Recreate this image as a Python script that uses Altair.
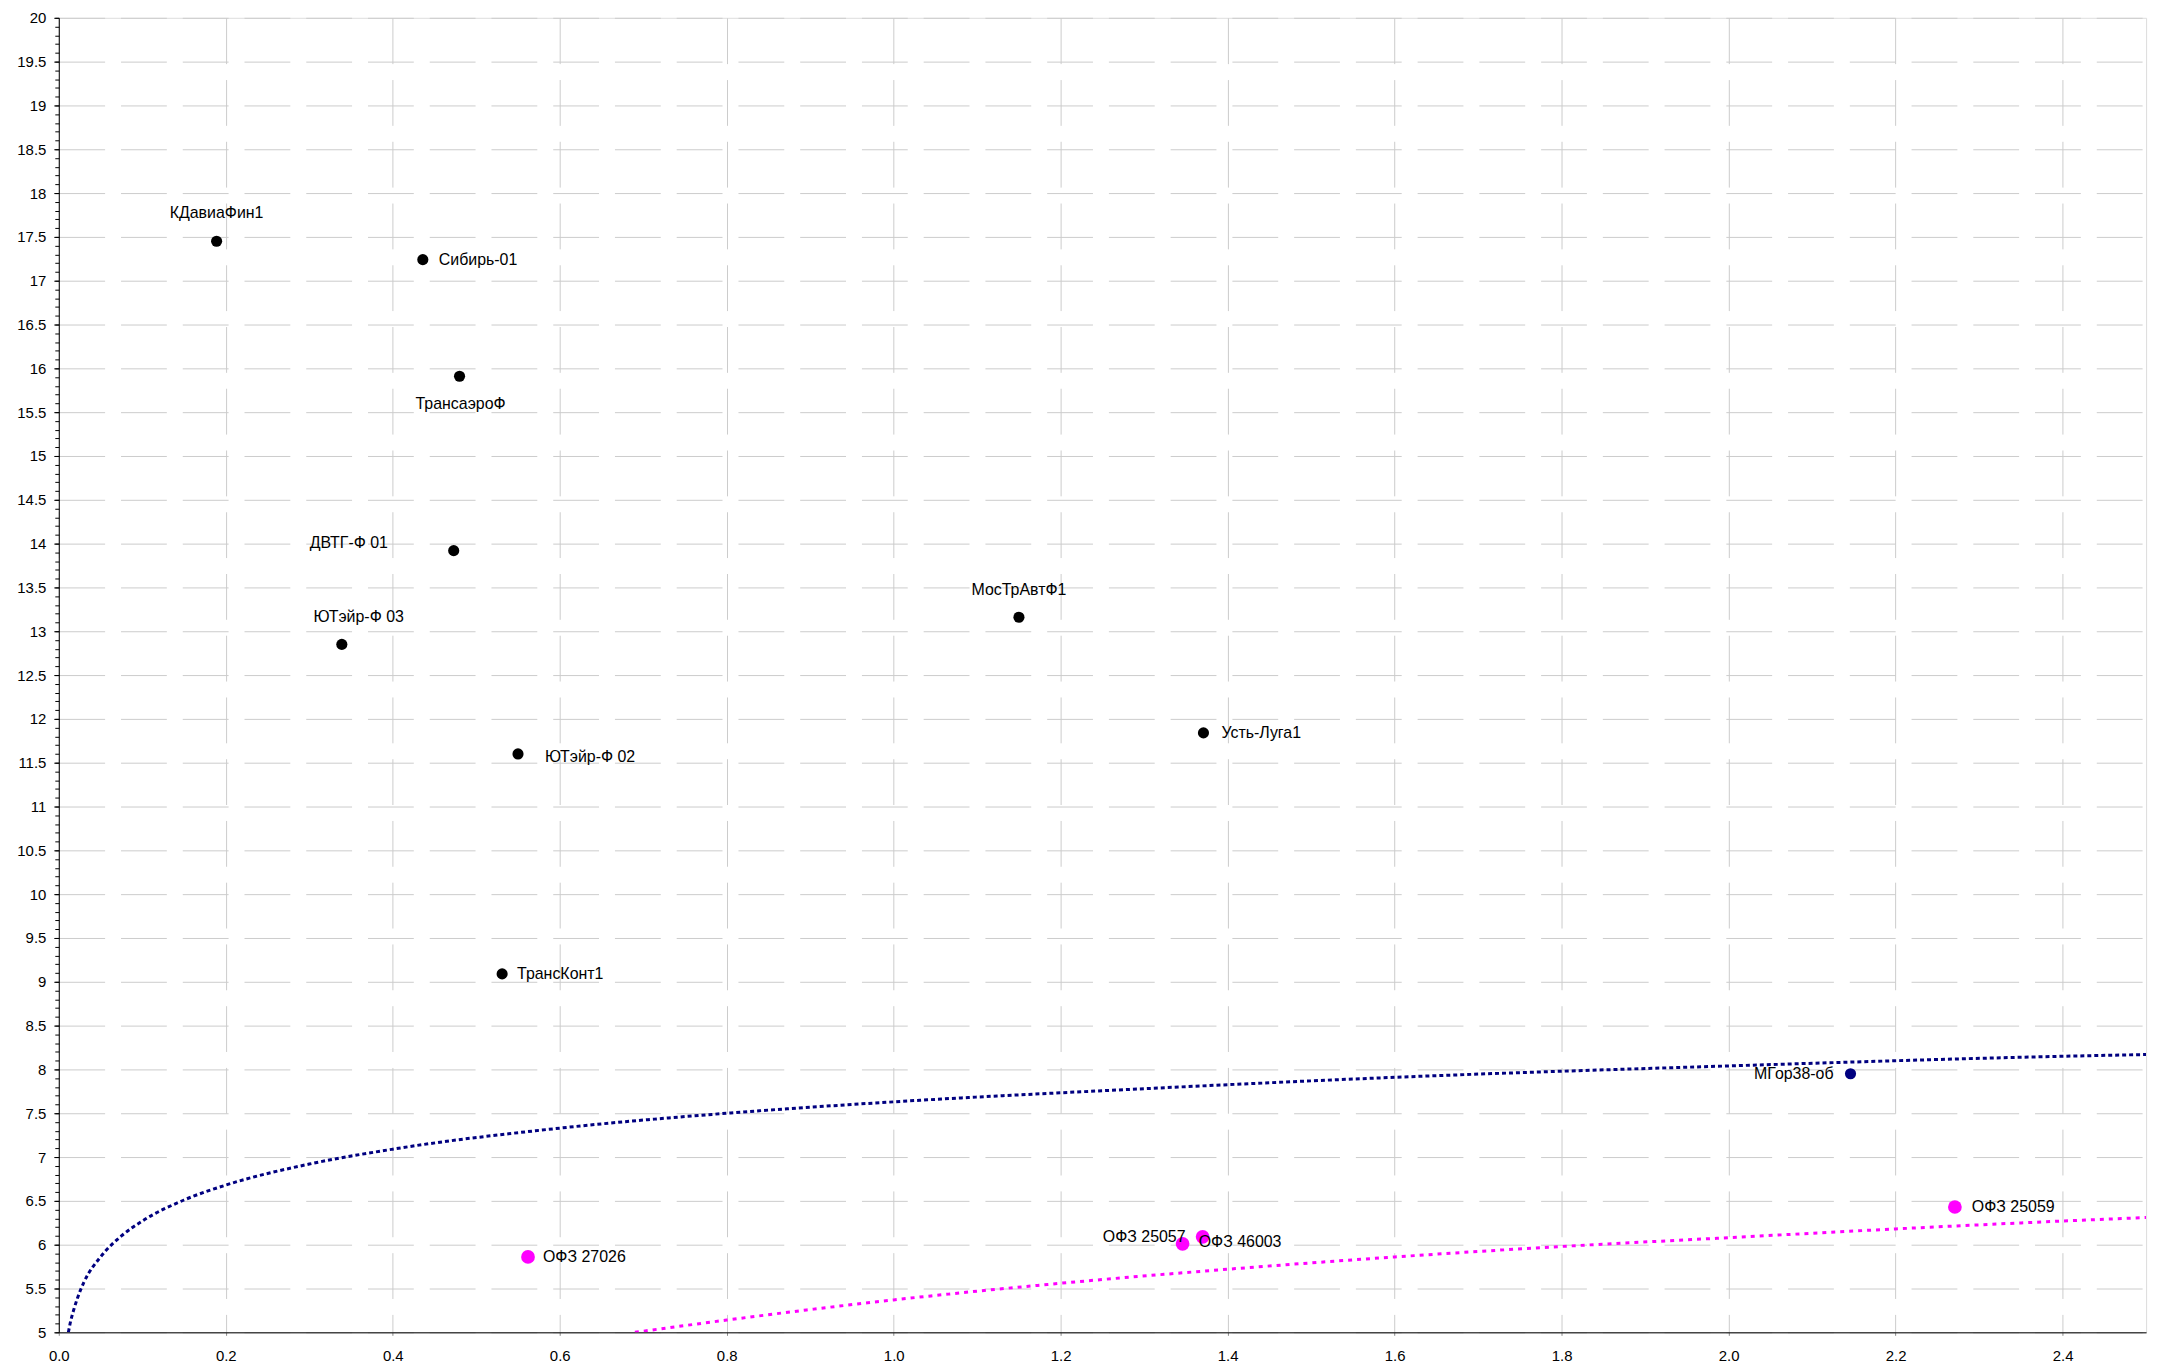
import altair as alt
import pandas as pd

# ---- data ----
names = ["КДавиаФин1", "Сибирь-01", "ТрансаэроФ", "ДВТГ-Ф 01", "ЮТэйр-Ф 03",
         "ЮТэйр-Ф 02", "ТрансКонт1", "МосТрАвтФ1", "Усть-Луга1", "МГор38-об",
         "ОФЗ 27026", "ОФЗ 25057", "ОФЗ 46003", "ОФЗ 25059"]
durations = [0.189, 0.436, 0.480, 0.473, 0.339, 0.550, 0.531, 1.150, 1.371,
             2.146, 0.562, 1.346, 1.370, 2.271]
yields = [17.45, 17.24, 15.91, 13.92, 12.85, 11.60, 9.09, 13.16, 11.84,
          7.95, 5.86, 6.01, 6.09, 6.43]
kinds = ["corp"] * 9 + ["muni"] + ["ofz"] * 4

# trend curves
muni_curve_x = [0.0115, 0.0145, 0.018, 0.022, 0.03, 0.05, 0.075, 0.1, 0.15,
                0.2, 0.3, 0.4, 0.6, 0.8, 1.0, 1.3, 1.6, 2.0, 2.4, 2.5]
muni_curve_y = [5.0, 5.14, 5.26, 5.38, 5.57, 5.86, 6.10, 6.27, 6.51,
                6.68, 6.92, 7.09, 7.33, 7.50, 7.63, 7.78, 7.91, 8.04, 8.15, 8.17]
ofz_curve_x = [0.69, 0.8, 0.9, 1.0, 1.2, 1.4, 1.6, 1.8, 2.0, 2.2, 2.4, 2.5]
ofz_curve_y = [5.0, 5.14, 5.26, 5.37, 5.56, 5.72, 5.86, 5.98, 6.08, 6.18, 6.27, 6.31]

x_ticks = [0.0, 0.2, 0.4, 0.6, 0.8, 1.0, 1.2, 1.4, 1.6, 1.8, 2.0, 2.2, 2.4]
y_ticks = [5.0 + 0.5 * i for i in range(31)]
y_minor_ticks = [round(5.0 + 0.1 * i, 1) for i in range(151)]

FONT = "Liberation Sans"

pts = pd.DataFrame({"name": names, "duration": durations, "yield": yields, "kind": kinds})
muni = pd.DataFrame({"duration": muni_curve_x, "yield": muni_curve_y})
ofz = pd.DataFrame({"duration": ofz_curve_x, "yield": ofz_curve_y})

xs = alt.Scale(domain=[0, 2.5], nice=False, zero=False)
ys = alt.Scale(domain=[5, 20], nice=False, zero=False)

x_axis = alt.Axis(values=x_ticks, format=".1f", title=None, grid=True,
                  gridColor="#cccccc", gridDash=[46, 16], gridWidth=1,
                  ticks=True, tickSize=3, tickColor="#888888",
                  domainColor="black", domainWidth=1,
                  labelFont=FONT, labelFontSize=15, labelColor="black",
                  labelPadding=13, labelFlush=False)
y_axis = alt.Axis(values=y_ticks, format="~g", title=None, grid=True, orient="left",
                  gridColor="#cccccc", gridDash=[46, 16], gridWidth=1,
                  tickColor="black", tickSize=5, domainColor="black", domainWidth=1,
                  labelFont=FONT, labelFontSize=15, labelColor="black",
                  labelPadding=8, labelFlush=False)
y_minor = alt.Axis(values=y_minor_ticks, title=None, grid=False, labels=False,
                   domain=False, orient="left", tickColor="black", tickSize=4)

X = alt.X("duration:Q", scale=xs, axis=x_axis)

muni_line = alt.Chart(muni).mark_line(
    interpolate="monotone", strokeDash=[4, 3], strokeWidth=3, color="#000080", clip=True
).encode(x=X, y=alt.Y("yield:Q", scale=ys, axis=y_minor))

ofz_line = alt.Chart(ofz).mark_line(
    interpolate="monotone", strokeDash=[4, 5], strokeWidth=3, color="#ff00ff", clip=True
).encode(x=X, y=alt.Y("yield:Q", scale=ys, axis=None))

color_enc = alt.Color("kind:N", scale=alt.Scale(domain=["corp", "muni", "ofz"],
                                                range=["#000000", "#000080", "#ff00ff"]),
                      legend=None)

small_points = alt.Chart(pts).transform_filter(alt.datum.kind != "ofz").mark_circle(
    opacity=1, size=125
).encode(x=X, y=alt.Y("yield:Q", scale=ys, axis=y_axis), color=color_enc)

big_points = alt.Chart(pts).transform_filter(alt.datum.kind == "ofz").mark_circle(
    opacity=1, size=190
).encode(x=X, y=alt.Y("yield:Q", scale=ys, axis=None), color=color_enc)

placement = {
    "КДавиаФин1": ("center", 0, -28),
    "Сибирь-01": ("left", 16, 0),
    "ТрансаэроФ": ("center", 1, 28),
    "ДВТГ-Ф 01": ("right", -66, -8),
    "ЮТэйр-Ф 03": ("center", 17, -27),
    "ЮТэйр-Ф 02": ("left", 27, 3),
    "ТрансКонт1": ("left", 15, 0),
    "МосТрАвтФ1": ("center", 0, -27),
    "Усть-Луга1": ("left", 18, 0),
    "МГор38-об": ("right", -17, 0),
    "ОФЗ 27026": ("left", 15, 0),
    "ОФЗ 25057": ("right", 3, -7),
    "ОФЗ 46003": ("left", -4, 5),
    "ОФЗ 25059": ("left", 17, 0),
}

texts = []
for n in names:
    al, dx, dy = placement[n]
    texts.append(
        alt.Chart(pts).transform_filter(alt.datum.name == n).mark_text(
            align=al, baseline="middle", dx=dx, dy=dy, font=FONT, fontSize=16, color="black"
        ).encode(x=X, y=alt.Y("yield:Q", scale=ys, axis=None), text="name:N")
    )

chart = alt.layer(muni_line, ofz_line, small_points, big_points, *texts).resolve_axis(
    y="independent"
).resolve_scale(y="shared").properties(
    width=2096, height=1320,
    autosize=alt.AutoSizeParams(type="none"),
    padding={"left": 51, "top": 7, "right": 20, "bottom": 40},
).configure_view(strokeWidth=0).configure(background="white")

chart.save("out.html", embed_options={"renderer": "svg", "actions": False})
